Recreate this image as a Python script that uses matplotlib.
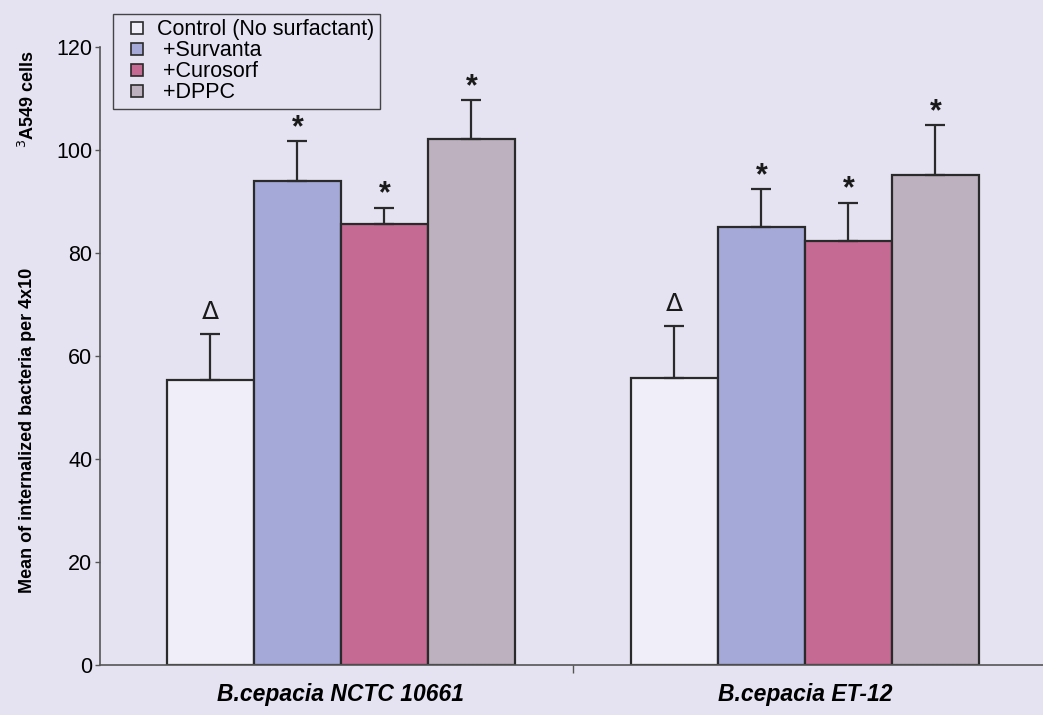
import numpy as np
import matplotlib
matplotlib.use("Agg")
import matplotlib.pyplot as plt
from matplotlib.lines import Line2D

plt.rcParams['font.family'] = ['Liberation Sans', 'DejaVu Sans']

strains = ["B.cepacia NCTC 10661", "B.cepacia ET-12"]
treatments = ["Control (No surfactant)", " +Survanta", " +Curosorf", " +DPPC"]

control = [55.3, 55.8]
survanta = [93.9, 85.0]
curosorf = [85.7, 82.4]
dppc = [102.1, 95.1]

control_err = [9.0, 10.0]
survanta_err = [7.9, 7.4]
curosorf_err = [3.1, 7.4]
dppc_err = [7.6, 9.7]

markers = [["\u0394", "*", "*", "*"], ["\u0394", "*", "*", "*"]]

y_ticks = [0, 20, 40, 60, 80, 100, 120]

means = [control, survanta, curosorf, dppc]
errors = [control_err, survanta_err, curosorf_err, dppc_err]
colors = ["#f0eff9", "#a4a9d8", "#c46a93", "#bdb0bf"]

bg = "#e5e3f1"
ink = "#2a2a2a"
W, H = 1043, 715
fig = plt.figure(figsize=(W / 100, H / 100), dpi=100, facecolor=bg)
ax = fig.add_axes([100 / W, 50 / H, 943 / W, 618 / H], facecolor=bg)

width = 0.1875
x = np.arange(len(strains))
offsets = (np.arange(len(treatments)) - 1.5) * width

for i, (vals, errs, col, lab) in enumerate(zip(means, errors, colors, treatments)):
    xpos = x + offsets[i]
    ax.bar(xpos, vals, width=width, color=col, edgecolor=ink,
           linewidth=1.6, label=lab, zorder=2)
    ax.errorbar(xpos, vals, yerr=[np.zeros(len(errs)), errs], fmt="none",
                ecolor=ink, elinewidth=1.6, capsize=7, capthick=1.6, zorder=3)
    for j in range(len(strains)):
        m = markers[j][i]
        top = vals[j] + errs[j]
        if m == "*":
            ax.text(xpos[j], top - 0.4, m, ha="center", va="bottom",
                    fontsize=22, fontweight="bold", color="#1a1a1a")
        else:
            ax.text(xpos[j], top + 2.0, m, ha="center", va="bottom",
                    fontsize=18, color="#1a1a1a", family=['DejaVu Sans'])

ax.set_xlim(-0.519, 1.513)
ax.set_ylim(0, 120)
ax.set_yticks(y_ticks)
ax.set_yticklabels([str(t) for t in y_ticks], fontsize=15.5)
ax.tick_params(axis="y", direction="out", length=3.5, width=1, color="#555555", pad=2)
ax.set_xticks([0.5], minor=True)
ax.tick_params(axis="x", which="minor", direction="out", length=6, width=1, color="#555555")
ax.set_xticks(x)
ax.set_xticklabels(strains, fontsize=16.5, fontweight="bold", fontstyle="italic")
ax.tick_params(axis="x", which="major", length=0, pad=13)

for s in ["top", "right"]:
    ax.spines[s].set_visible(False)
for s in ["left", "bottom"]:
    ax.spines[s].set_color("#555555")
    ax.spines[s].set_linewidth(1.2)

# y-axis title, set in two pieces with a wide gap between them
fig.text(28 / W, (H - 593) / H, "Mean of internalized bacteria per 4x10",
         rotation=90, ha="center", va="bottom", fontsize=13, fontweight="bold")
fig.text(28 / W, (H - 148) / H, "$^{3}$A549 cells",
         rotation=90, ha="center", va="bottom", fontsize=13, fontweight="bold")

handles = [Line2D([], [], linestyle="none", marker="s", markersize=9,
                  markerfacecolor=c, markeredgecolor=ink, markeredgewidth=1.2)
           for c in colors]
leg = ax.legend(handles, treatments, loc="upper left",
                bbox_to_anchor=(13 / 943, (665 - 14) / 618),
                fontsize=15.5, frameon=True, fancybox=False, edgecolor="#444444",
                facecolor=bg, framealpha=1, handlelength=1.75, handletextpad=0.05,
                labelspacing=0.0, borderpad=0.25, borderaxespad=0)
leg.get_frame().set_linewidth(1.0)

fig.savefig("out.png", dpi=100, facecolor=bg)
